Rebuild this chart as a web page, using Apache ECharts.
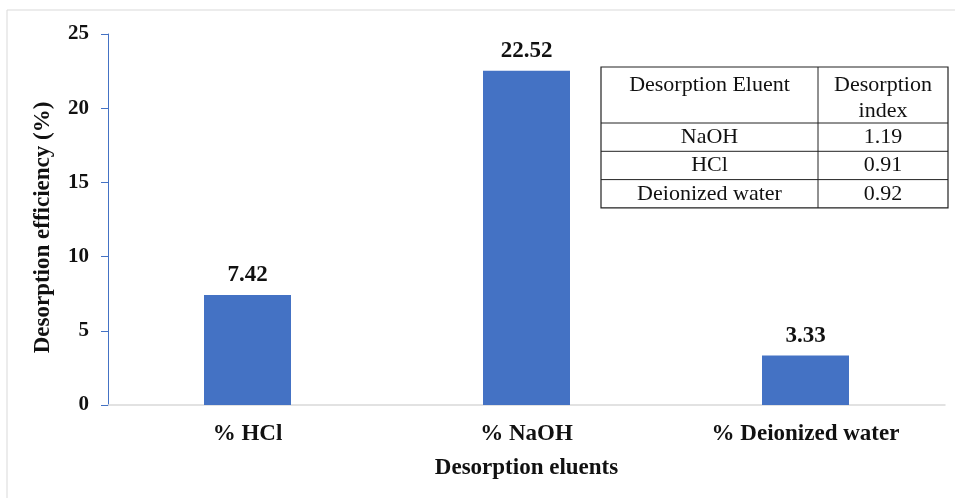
<!DOCTYPE html>
<html>
<head>
<meta charset="utf-8">
<script src="https://cdn.jsdelivr.net/npm/echarts@6/dist/echarts.min.js"></script>
<style>
  html, body { margin: 0; padding: 0; background: #fff; }
  #chart { width: 955px; height: 498px; }
</style>
</head>
<body>
<div id="chart"></div>
<script>
// Desorption efficiency per eluent
const categories = ['% HCl', '% NaOH', '% Deionized water'];
const efficiency = [7.42, 22.52, 3.33];
const yTicks = [0, 5, 10, 15, 20, 25];

// Inset table: desorption index per eluent
const tableHeader = ['Desorption Eluent', 'Desorption\nindex'];
const tableEluents = ['NaOH', 'HCl', 'Deionized water'];
const tableIndex = ['1.19', '0.91', '0.92'];

const serif = '"Liberation Serif", "Times New Roman", serif';
const chart = echarts.init(document.getElementById('chart'));

// Table geometry
const tX = 601, tY = 67, col1 = 217, col2 = 130, headH = 56, rowH = 28.3;
const tableElems = [];
const tW = col1 + col2;
const tH = headH + rowH * tableEluents.length;
tableElems.push({ type: 'rect', shape: { x: tX, y: tY, width: tW, height: tH },
  style: { fill: '#fff', stroke: '#222', lineWidth: 1.2 } });
tableElems.push({ type: 'line', shape: { x1: tX + col1, y1: tY, x2: tX + col1, y2: tY + tH },
  style: { stroke: '#222', lineWidth: 1 } });
for (let i = 0; i < tableEluents.length; i++) {
  const y = tY + headH + rowH * i;
  tableElems.push({ type: 'line', shape: { x1: tX, y1: y, x2: tX + tW, y2: y },
    style: { stroke: '#222', lineWidth: 1 } });
}
const cellText = (txt, cx, cy, lh) => ({
  type: 'text', x: cx, y: cy,
  style: { text: txt, fill: '#111', font: '22px ' + serif, align: 'center',
    verticalAlign: 'middle', lineHeight: lh || 24 }
});
tableElems.push(cellText(tableHeader[0], tX + col1 / 2, tY + 18));
tableElems.push(cellText(tableHeader[1], tX + col1 + col2 / 2, tY + 31, 26));
tableEluents.forEach((e, i) => {
  const cy = tY + headH + rowH * i + rowH / 2;
  tableElems.push(cellText(e, tX + col1 / 2, cy));
  tableElems.push(cellText(tableIndex[i], tX + col1 + col2 / 2, cy));
});

// Outer frame (top and left edges)
const frame = [
  { type: 'line', shape: { x1: 7, y1: 10, x2: 955, y2: 10 }, style: { stroke: '#d9d9d9', lineWidth: 1 } },
  { type: 'line', shape: { x1: 7, y1: 10, x2: 7, y2: 498 }, style: { stroke: '#d9d9d9', lineWidth: 1 } }
];

chart.setOption({
  animation: false,
  backgroundColor: '#fff',
  grid: { left: 108, right: 10, top: 34, bottom: 93, containLabel: false },
  xAxis: {
    type: 'category',
    data: categories,
    name: 'Desorption eluents',
    nameLocation: 'middle',
    nameGap: 52,
    nameTextStyle: { fontFamily: serif, fontWeight: 'bold', fontSize: 23, color: '#111' },
    axisLine: { lineStyle: { color: '#d9d9d9', width: 1.5 } },
    axisTick: { show: false },
    axisLabel: { fontFamily: serif, fontWeight: 'bold', fontSize: 23, color: '#111', margin: 18 }
  },
  yAxis: {
    type: 'value',
    min: yTicks[0],
    max: yTicks[yTicks.length - 1],
    interval: yTicks[1] - yTicks[0],
    name: 'Desorption efficiency (%)',
    nameLocation: 'middle',
    nameGap: 53,
    nameTextStyle: { fontFamily: serif, fontWeight: 'bold', fontSize: 23, color: '#111', padding: [0, 16, 0, 0] },
    axisLine: { show: true, lineStyle: { color: '#4472c4', width: 1 } },
    axisTick: { show: true, length: 7, lineStyle: { color: '#4472c4' } },
    splitLine: { show: false },
    axisLabel: { fontFamily: serif, fontWeight: 'bold', fontSize: 21, color: '#111', margin: 19 }
  },
  series: [{
    type: 'bar',
    data: efficiency,
    barWidth: 87,
    itemStyle: { color: '#4472c4' },
    label: {
      show: true, position: 'top', distance: 8,
      fontFamily: serif, fontWeight: 'bold', fontSize: 23, color: '#111',
      formatter: p => p.value.toFixed(2)
    }
  }],
  graphic: frame.concat(tableElems)
});
</script>
</body>
</html>
